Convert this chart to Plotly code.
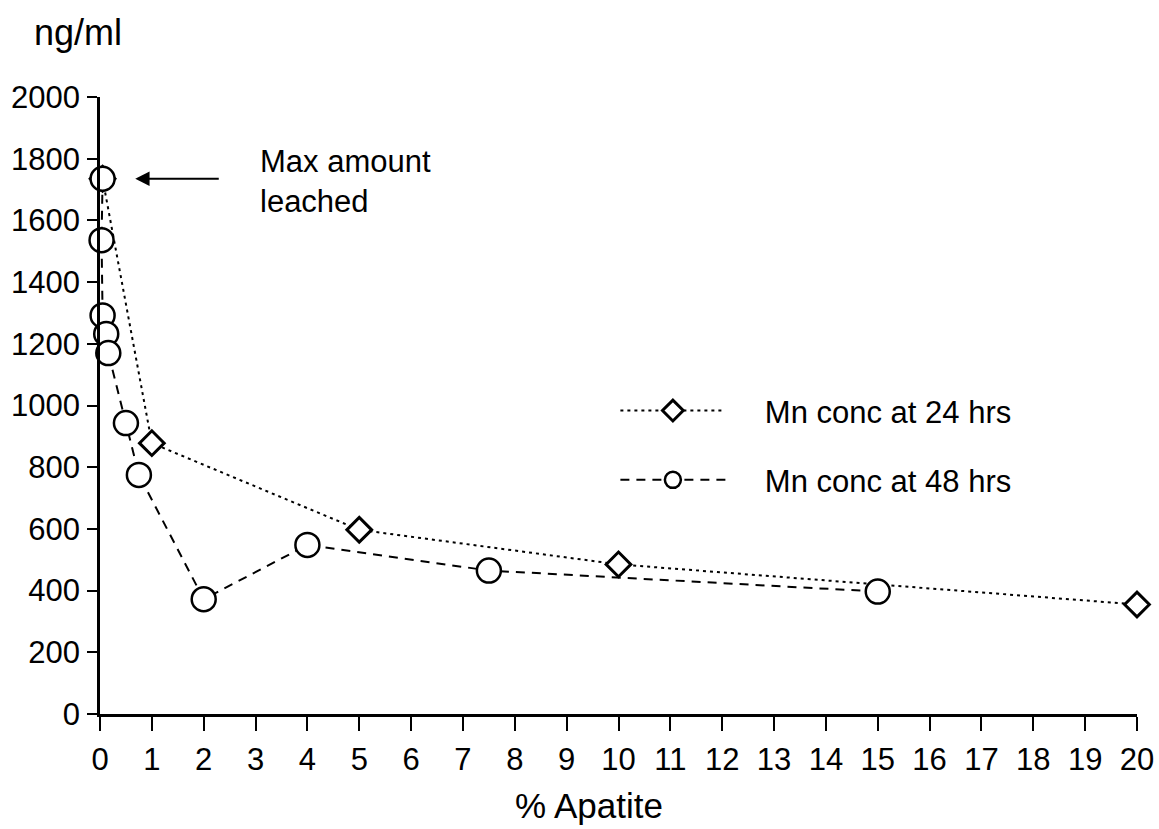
import plotly.graph_objects as go

# Data
apatite_24h = [0.05, 1, 5, 10, 20]
mn_24h = [1735, 878, 597, 485, 355]

apatite_48h = [0.05, 0.03, 0.05, 0.12, 0.16, 0.5, 0.75, 2, 4, 7.5, 15]
mn_48h = [1735, 1536, 1292, 1232, 1170, 943, 775, 372, 548, 465, 397]

series_names = ["Mn conc at 24 hrs", "Mn conc at 48 hrs"]

x_ticks = list(range(0, 21))
y_ticks = list(range(0, 2001, 200))

FONT = "Liberation Sans, Arial, Helvetica, sans-serif"
PAD = "\u00a0" * 4  # gap between legend sample and legend text

fig = go.Figure()

fig.add_trace(go.Scatter(
    x=apatite_24h, y=mn_24h, mode="lines+markers",
    name=PAD + series_names[0], legendgroup="a",
    line=dict(color="black", width=2, dash="3px,4px"),
    marker=dict(symbol="diamond", size=19, color="white",
                line=dict(color="black", width=3)),
    cliponaxis=False,
))

fig.add_trace(go.Scatter(
    x=apatite_48h, y=mn_48h, mode="lines+markers",
    name=PAD + series_names[1], legendgroup="b",
    line=dict(color="black", width=2, dash="9px,7px"),
    marker=dict(symbol="circle", size=24, color="white",
                line=dict(color="black", width=2.5)),
    cliponaxis=False,
))

fig.update_layout(
    width=1159, height=829,
    margin=dict(l=100, r=22, t=97, b=115),
    paper_bgcolor="white", plot_bgcolor="white",
    font=dict(family=FONT, size=31, color="black"),
    showlegend=True,
    legend=dict(x=0.497, y=0.535, xanchor="left", yanchor="top",
                font=dict(size=31), tracegroupgap=26,
                bgcolor="rgba(0,0,0,0)", itemwidth=105),
    xaxis=dict(range=[0, 20], tickmode="array", tickvals=x_ticks,
               ticktext=[str(v) for v in x_ticks], automargin=False,
               showgrid=False, zeroline=False, showline=True,
               linecolor="black", linewidth=2.5,
               ticks="outside", ticklen=14, tickwidth=2, tickcolor="black",
               tickfont=dict(size=31), ticklabelstandoff=2),
    yaxis=dict(range=[0, 2000], tickmode="array", tickvals=y_ticks,
               ticktext=[str(v) for v in y_ticks], automargin=False,
               showgrid=False, zeroline=False, showline=True,
               linecolor="black", linewidth=2.5,
               ticks="outside", ticklen=10, tickwidth=2, tickcolor="black",
               tickfont=dict(size=31), ticklabelstandoff=1),
)

# Axis titles
fig.add_annotation(text="ng/ml", xref="paper", yref="paper",
                   x=-0.066, y=1.105, xanchor="left", yanchor="middle",
                   showarrow=False, font=dict(size=36))
fig.add_annotation(text="% Apatite", xref="paper", yref="paper",
                   x=0.472, y=-0.148, xanchor="center", yanchor="middle",
                   showarrow=False, font=dict(size=35))

# Max amount arrow and label
fig.add_annotation(text="", x=0.68, y=1735, xref="x", yref="y",
                   ax=85, ay=0, showarrow=True, arrowhead=2,
                   arrowsize=1.3, arrowwidth=2.2, arrowcolor="black")
fig.add_annotation(text="Max amount<br>leached", x=3.05, y=1725,
                   xref="x", yref="y", xanchor="left", yanchor="middle",
                   align="left", showarrow=False, font=dict(size=31))

# Remove the default page margin so the figure fills the window exactly
fig.write_html("out.html", config={"displayModeBar": False},
               post_script="document.body.style.margin='0';")
